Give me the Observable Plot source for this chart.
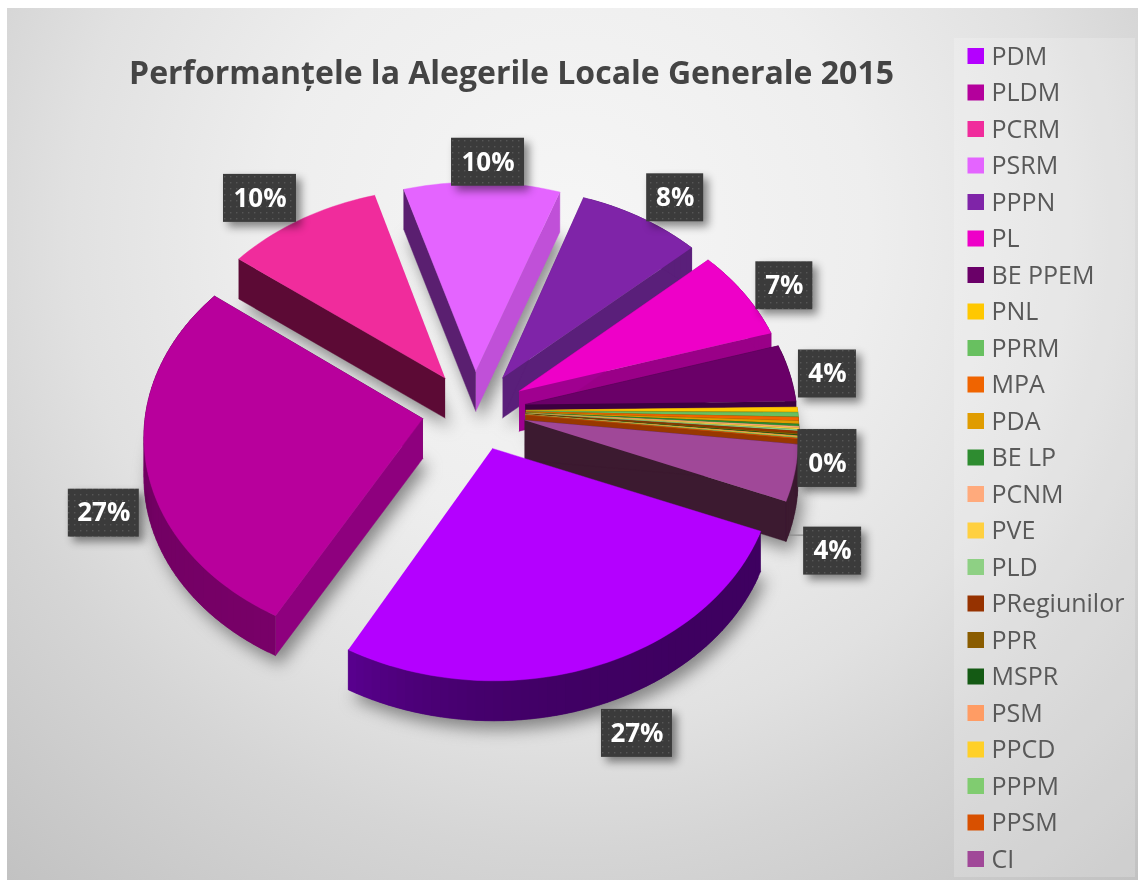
<!DOCTYPE html>
<html><head><meta charset="utf-8">
<script src="https://cdn.jsdelivr.net/npm/d3@7"></script>
<script src="https://cdn.jsdelivr.net/npm/@observablehq/plot@0.6"></script>
<style>
html,body{margin:0;padding:0;background:#fff;}
#chart{position:relative;width:1142px;height:885px;overflow:hidden;}
#bg{position:absolute;left:7px;top:8px;width:1131px;height:872px;
 background:radial-gradient(circle 880px at 563px 222px,#f6f6f6 0px,#eeeeee 300px,#e1e1e1 500px,#d5d5d5 620px,#c2c2c2 860px);}
#panel{position:absolute;left:954px;top:38px;width:181px;height:839px;background:rgba(255,255,255,.2);}
#plot{position:absolute;left:0;top:0;filter:blur(.6px);}
#plot svg{background:transparent;display:block;}
</style></head><body>
<div id="chart"><div id="bg"></div><div id="panel"></div><div id="plot"></div></div>
<script>
const parties=["PDM","PLDM","PCRM","PSRM","PPPN","PL","BE PPEM","PNL","PPRM","MPA","PDA","BE LP","PCNM","PVE","PLD","PRegiunilor","PPR","MSPR","PSM","PPCD","PPPM","PPSM","CI"];
const shares=[26.9,27.4,10.0,9.9,8.0,7.0,4.4,0.35,0.3,0.25,0.2,0.15,0.1,0.1,0.1,0.15,0.1,0.05,0.05,0.05,0.05,0.05,4.3];
const colors=["#b400ff","#b4009c","#f02c9c","#e464ff","#7f24a8","#ee00c8","#6a0068","#ffc800","#68c060","#f06400","#e09c00","#2e8c30","#ffaa7c","#ffd040","#8ed084","#963200","#8a5c00","#145a14","#ff9c64","#ffd028","#80cc70","#d85000","#a04898"];
const topColors=colors.map((c,i)=>i==1?"#b8009c":c);
const wallColors=["#40006a","#8e007e","#5c0a35","#5a1f7a","#5a1f7a","#9a0088","#3c0040","#b88a00","#4d8a30","#a85000","#9a6a00","#226020","#b07a50","#b09020","#608a58","#6a2400","#5a3c00","#0e400e","#b06a40","#b09010","#58905a","#983800","#3c1a30"];
const labels=["27%","27%","10%","10%","8%","7%","4%","0%","4%"];
const labelled=["PDM","PLDM","PCRM","PSRM","PPPN","PL","BE PPEM","PNL","CI"];
const labelNudge=[[42,67],[-42,51],[-41,-21],[6,-20],[34,-20],[40,-8],[38,1],[30,54],[38,78]];
const labelWidth={"27%":71,"10%":73,"8%":57,"7%":57,"4%":58,"0%":59};

// projection of the tilted pie: unit-disc coords → picture coords
const CX=474,CY=410,BX=277,AY=209,P=0.075,EXPLODE=0.19,DEPTH=40;
const proj=(X,Y,kx=1)=>{const s=1/(1+P*Y);return [CX+BX*kx*X*s,CY-AY*Y*s];};
const START=112*Math.PI/180;
const arcs=d3.pie().sort(null).value(d=>d).startAngle(START).endAngle(START+2*Math.PI)(shares);
const slices=parties.map((name,i)=>{
  const a=arcs[i],mid=(a.startAngle+a.endAngle)/2;
  return {name,i,a0:a.startAngle,a1:a.endAngle,mid,kx:i>=4?0.98:1,ex:EXPLODE*Math.sin(mid),ey:EXPLODE*Math.cos(mid)};
});
const pt=(s,r,t)=>proj(s.ex+r*Math.sin(t),s.ey+r*Math.cos(t),s.kx);
const polys=[],shadows=[];
let pid=0;
function poly(coords,fill,list=polys){const id=pid++;coords.forEach(c=>list.push({x:c[0],y:c[1],id,fill}));}
const down=c=>[c[0],c[1]+DEPTH];
const order=[3,2,4,5,6,7,8,9,10,11,12,13,14,15,16,17,18,19,20,21,22,1,0];
for(const k of order){
  const s=slices[k];
  const n=Math.max(2,Math.ceil((s.a1-s.a0)/0.03));
  const rim=d3.range(n+1).map(j=>pt(s,1,s.a0+(s.a1-s.a0)*j/n));
  const apex=pt(s,0,0);
  const top=[apex,...rim];
  poly(top.map(c=>[c[0]+5,c[1]+DEPTH+9]),"#777",shadows);
  const wall=(c)=>[apex,c,down(c),down(apex)];
  if(k===3){poly(wall(rim[0]),"#5a1f70");poly(wall(rim[n]),"#c050d8");}
  else if(k===1){poly(wall(rim[n]),"#5a0050");poly(wall(rim[0]),wallColors[1]);}
  else if(k===2){poly(wall(rim[0]),wallColors[2]);}
  else if(k!==0){poly(wall(rim[n]),wallColors[k]);poly(wall(rim[0]),k===5?"#a00090":wallColors[k]);}
  if(k!==2&&k!==3){
    for(let j=0;j<n;j++){
      const f=k===0?d3.interpolateRgb("#3e0060","#5a0090")(Math.pow(j/n,4)):k===1?d3.interpolateRgb("#780068","#6a005c")(j/n):wallColors[k];
      const e=rim[Math.min(j+2,n)];
      poly([rim[j],e,down(e),down(rim[j])],f);
    }
  }
  poly(top,topColors[k]);
}
// labels
const labelRows=labelled.map((name,j)=>{
  const s=slices[parties.indexOf(name)];
  const p=pt(s,1,s.mid);
  const w=labelWidth[labels[j]];
  const cx=p[0]+labelNudge[j][0],cy=p[1]+labelNudge[j][1];
  return {t:labels[j],cx,cy,x1:cx-w/2,x2:cx+w/2,y1:cy-(labels[j]==="0%"?34:24),y2:cy+24};
});
// leader of the CI label
const ciRim=pt(slices[22],1,slices[22].mid);
const ciLabel=labelRows[8];
const leader=[[ciRim[0]-5,ciRim[1]+15],[ciRim[0]-5,ciLabel.cy-16],[ciLabel.x1,ciLabel.cy-16]].map(c=>({x:c[0],y:c[1]}));
// legend
const legendRows=parties.map((name,i)=>({name,i,yc:56+36.5*i}));
const defs=()=>{const ns="http://www.w3.org/2000/svg";
  const d=document.createElementNS(ns,"defs");
  d.innerHTML='<pattern id="dots" width="6" height="6" patternUnits="userSpaceOnUse"><rect width="6" height="6" fill="#3b3b3b"/><rect x="2" y="2" width="1.4" height="1.4" fill="#565656"/></pattern>';
  return d;};
const plot=Plot.plot({
  width:1142,height:885,margin:0,
  x:{domain:[0,1142],range:[0,1142],axis:null},
  y:{domain:[0,885],range:[0,885],axis:null},
  marks:[
    defs,
    Plot.line(shadows,{x:"x",y:"y",z:"id",fill:"#6e6e6e",stroke:null,curve:"linear",imageFilter:"blur(8px)",fillOpacity:0.8}),
    Plot.line(leader,{x:"x",y:"y",stroke:"#8c8c8c",strokeWidth:1.2,curve:"linear"}),
    Plot.line(polys,{x:"x",y:"y",z:"id",fill:"fill",stroke:"fill",strokeWidth:0.4,curve:"linear"}),
    Plot.rect(labelRows,{x1:"x1",x2:"x2",y1:"y1",y2:"y2",fill:"url(#dots)",imageFilter:"drop-shadow(5px 5px 4px rgba(0,0,0,.45))"}),
    Plot.text(labelRows,{x:"cx",y:"cy",text:"t",fill:"#fff",fontFamily:"Open Sans",fontWeight:700,fontSize:26}),
    Plot.text(["Performanțele la Alegerile Locale Generale 2015"],{x:()=>511,y:()=>73,fontFamily:"Open Sans",fontWeight:700,fontSize:32,fill:"#444"}),
    Plot.rect(legendRows,{x1:()=>967.5,x2:()=>984,y1:d=>d.yc-8,y2:d=>d.yc+8,fill:d=>colors[d.i]}),
    Plot.text(legendRows,{x:()=>991,y:"yc",text:"name",textAnchor:"start",fontFamily:"Open Sans",fontSize:25,fill:"#595959"})
  ]
});
document.getElementById("plot").append(plot);
</script></body></html>
